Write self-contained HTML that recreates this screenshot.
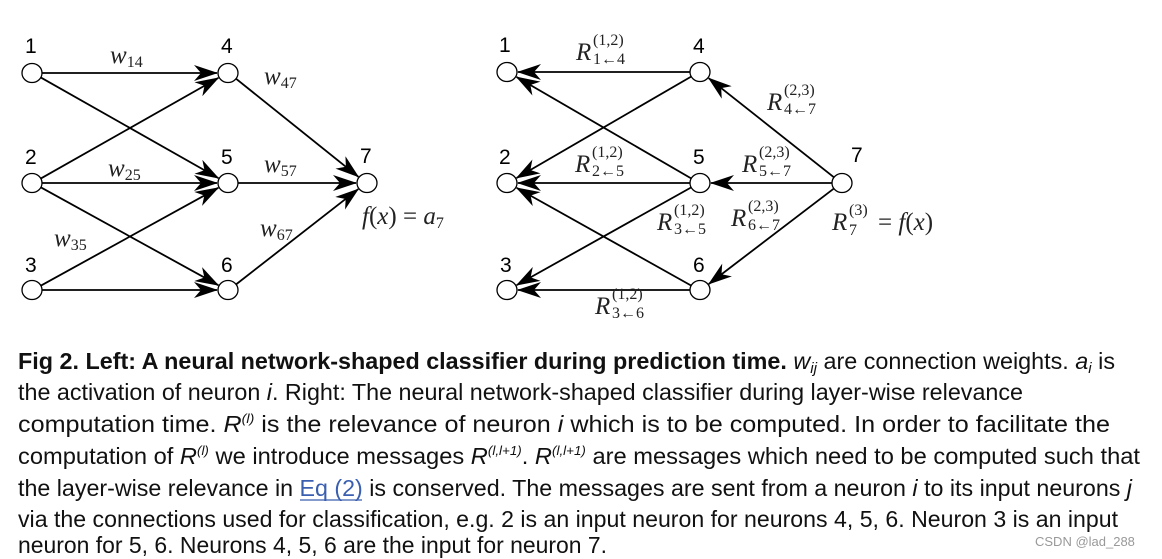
<!DOCTYPE html>
<html><head><meta charset="utf-8"><style>
html,body{margin:0;padding:0;background:#fff;width:1162px;height:559px;overflow:hidden}
svg{display:block}
.n{font-family:"Liberation Sans",sans-serif;font-size:21px;fill:#000}
.m{font-family:"Liberation Serif",serif;font-style:italic;font-size:25px;fill:#222}
.s{font-family:"Liberation Serif",serif;font-size:16px;fill:#222;font-style:normal}
.c{font-family:"Liberation Sans",sans-serif;font-size:23px;fill:#111}
.i{font-style:italic}
</style></head><body>
<svg id="g" width="1162" height="559" viewBox="0 0 1162 559" xmlns="http://www.w3.org/2000/svg">
<defs>
<marker id="a" markerWidth="26" markerHeight="16" refX="23" refY="8" orient="auto" markerUnits="userSpaceOnUse">
<path d="M0,0 L24,8 L0,16 L7,8 z" fill="#000"/>
</marker>
</defs>
<g id="edges" stroke="#000" stroke-width="1.8" fill="none"></g>
<g id="nodes" fill="#fff" stroke="#000" stroke-width="1.3"></g>
<text class="n" x="25" y="53">1</text><text class="n" x="221" y="53">4</text>
<text class="n" x="25" y="164">2</text><text class="n" x="221" y="164">5</text>
<text class="n" x="25" y="272">3</text><text class="n" x="221" y="272">6</text>
<text class="n" x="360" y="163">7</text>
<text class="n" x="499" y="52">1</text><text class="n" x="693" y="53">4</text>
<text class="n" x="499" y="164">2</text><text class="n" x="693" y="164">5</text>
<text class="n" x="500" y="272">3</text><text class="n" x="693" y="272">6</text>
<text class="n" x="851" y="162">7</text>
<text class="m" x="110" y="63">w<tspan class="s" dy="4">14</tspan></text>
<text class="m" x="264" y="84">w<tspan class="s" dy="4">47</tspan></text>
<text class="m" x="108" y="176">w<tspan class="s" dy="4">25</tspan></text>
<text class="m" x="264" y="172">w<tspan class="s" dy="4">57</tspan></text>
<text class="m" x="54" y="246">w<tspan class="s" dy="4">35</tspan></text>
<text class="m" x="260" y="236">w<tspan class="s" dy="4">67</tspan></text>
<text class="m" x="362" y="224">f<tspan font-style="normal">(</tspan>x<tspan font-style="normal">) = </tspan>a<tspan class="s" dy="4">7</tspan></text>
<g class="m">
<text x="576" y="60">R</text><text class="s" x="593" y="45">(1,2)</text><text class="s" x="593" y="64">1←4</text>
<text x="767" y="110">R</text><text class="s" x="784" y="95">(2,3)</text><text class="s" x="784" y="114">4←7</text>
<text x="575" y="172">R</text><text class="s" x="592" y="157">(1,2)</text><text class="s" x="592" y="176">2←5</text>
<text x="742" y="172">R</text><text class="s" x="759" y="157">(2,3)</text><text class="s" x="759" y="176">5←7</text>
<text x="657" y="230">R</text><text class="s" x="674" y="215">(1,2)</text><text class="s" x="674" y="234">3←5</text>
<text x="731" y="226">R</text><text class="s" x="748" y="211">(2,3)</text><text class="s" x="748" y="230">6←7</text>
<text x="832" y="230">R</text><text class="s" x="849" y="215">(3)</text><text class="s" x="849" y="235">7</text>
<text x="878" y="230"><tspan font-style="normal">= </tspan>f<tspan font-style="normal">(</tspan>x<tspan font-style="normal">)</tspan></text>
<text x="595" y="314">R</text><text class="s" x="612" y="299">(1,2)</text><text class="s" x="612" y="318">3←6</text>
</g>
<text class="c" x="18" y="369" textLength="1097" lengthAdjust="spacingAndGlyphs"><tspan font-weight="bold">Fig 2.  Left: A neural network-shaped classifier during prediction time.</tspan> <tspan class="i">w</tspan><tspan class="i" font-size="15" dy="4">ij</tspan><tspan dy="-4"> are connection weights. </tspan><tspan class="i">a</tspan><tspan class="i" font-size="15" dy="4">i</tspan><tspan dy="-4"> is</tspan></text>
<text class="c" x="18" y="400" textLength="1005" lengthAdjust="spacingAndGlyphs">the activation of neuron <tspan class="i">i</tspan>. Right: The neural network-shaped classifier during layer-wise relevance</text>
<text class="c" x="18" y="432" textLength="1092" lengthAdjust="spacingAndGlyphs">computation time. <tspan class="i">R</tspan><tspan class="i" font-size="13" dy="-9">(l)</tspan><tspan dy="9"> is the relevance of neuron </tspan><tspan class="i">i</tspan> which is to be computed. In order to facilitate the</text>
<text class="c" x="18" y="464" textLength="1122" lengthAdjust="spacingAndGlyphs">computation of <tspan class="i">R</tspan><tspan class="i" font-size="13" dy="-9">(l)</tspan><tspan dy="9"> we introduce messages </tspan><tspan class="i">R</tspan><tspan class="i" font-size="13" dy="-9">(l,l+1)</tspan><tspan dy="9">. </tspan><tspan class="i">R</tspan><tspan class="i" font-size="13" dy="-9">(l,l+1)</tspan><tspan dy="9"> are messages which need to be computed such that</tspan></text>
<text class="c" x="18" y="496" textLength="1114" lengthAdjust="spacingAndGlyphs">the layer-wise relevance in <tspan fill="#3a5fb0">Eq (2)</tspan> is conserved. The messages are sent from a neuron <tspan class="i">i</tspan> to its input neurons <tspan class="i">j</tspan></text>
<line x1="300" y1="500" x2="362" y2="500" stroke="#3a5fb0" stroke-width="1.3"/>
<text class="c" x="18" y="527" textLength="1100" lengthAdjust="spacingAndGlyphs">via the connections used for classification, e.g. 2 is an input neuron for neurons 4, 5, 6. Neuron 3 is an input</text>
<text class="c" x="18" y="553" textLength="589" lengthAdjust="spacingAndGlyphs">neuron for 5, 6. Neurons 4, 5, 6 are the input for neuron 7.</text>
<text x="1035" y="546" font-family="Liberation Sans,sans-serif" font-size="13" fill="#999">CSDN @lad_288</text>
</svg>
<script>
var NS="http://www.w3.org/2000/svg";
var L={1:[32,73],4:[228,73],2:[32,183],5:[228,183],3:[32,290],6:[228,290],7:[367,183]};
var R={1:[507,72],4:[700,72],2:[507,183],5:[700,183],3:[507,290],6:[700,290],7:[842,183]};
var le=[[1,4],[1,5],[2,4],[2,5],[2,6],[3,5],[3,6],[4,7],[5,7],[6,7]];
var eg=document.getElementById("edges"),ng=document.getElementById("nodes");
function edge(P,a,b){var p=P[a],q=P[b],dx=q[0]-p[0],dy=q[1]-p[1],d=Math.hypot(dx,dy),ux=dx/d,uy=dy/d;
var l=document.createElementNS(NS,"line");l.setAttribute("x1",p[0]+ux*10);l.setAttribute("y1",p[1]+uy*9);
l.setAttribute("x2",q[0]-ux*11);l.setAttribute("y2",q[1]-uy*10);l.setAttribute("marker-end","url(#a)");eg.appendChild(l);}
le.forEach(function(e){edge(L,e[0],e[1]);edge(R,e[1],e[0]);});
[L,R].forEach(function(P){for(var k in P){var c=document.createElementNS(NS,"ellipse");c.setAttribute("cx",P[k][0]);c.setAttribute("cy",P[k][1]);c.setAttribute("rx",10);c.setAttribute("ry",9.5);ng.appendChild(c);}});
</script>
</body></html>
